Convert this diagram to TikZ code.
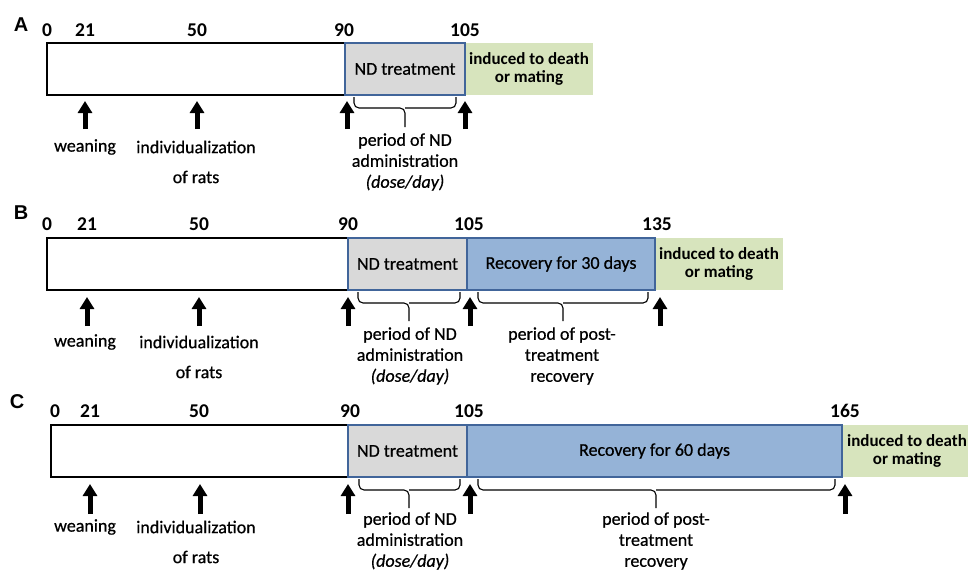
\documentclass[tikz,border=0pt]{standalone}
\usepackage{fontspec}
\setmainfont{Carlito}
\newfontfamily\bodyfont{Carlito}[FakeBold=0.6]
\newfontfamily\labfont{Liberation Sans}
\usetikzlibrary{arrows.meta}
\definecolor{bdblue}{HTML}{41659A}
\definecolor{ndgray}{HTML}{D9D9D9}
\definecolor{recblue}{HTML}{95B3D7}
\definecolor{grn}{HTML}{D7E4BD}
\begin{document}
\begin{tikzpicture}[x=1pt,y=-1pt,
  every node/.style={inner sep=0pt, outer sep=0pt},
  basebox/.style={anchor=north west, minimum height=52pt, line width=2pt},
  whitebox/.style={basebox, draw=black, fill=white},
  ndbox/.style={basebox, draw=bdblue, fill=ndgray, font=\bodyfont\fontsize{18}{21}\selectfont},
  recbox/.style={basebox, draw=bdblue, fill=recblue, font=\bodyfont\fontsize{18}{21}\selectfont},
  grnbox/.style={basebox, line width=0pt, fill=grn, align=center, font=\bfseries\fontsize{17}{18}\selectfont},
  num/.style={font=\bfseries\fontsize{19.5}{20}\selectfont},
  lab/.style={font=\labfont\bfseries\fontsize{20}{20}\selectfont},
  txt/.style={font=\bodyfont\fontsize{18}{21}\selectfont, align=center},
  uparrow/.style={line width=5pt, -{Triangle[width=14pt,length=12pt]}},
  brc/.style={line width=1.1pt, rounded corners=5pt},
]
\useasboundingbox[fill=white] (0,0) rectangle (968,570);

% ================= Panel A =================
\node[lab] (la) at (21,25) {A};
\node[num] (a0) at (47,30) {0};
\node[num] (a21) at (85,30) {21};
\node[num] (a50) at (197,30) {50};
\node[num] (a90) at (344,30) {90};
\node[num] (a105) at (465,30) {105};
\node[grnbox, minimum width=128pt] (ag) at (465,43) {induced to death\\or mating};
\node[whitebox, minimum width=298pt] (aw) at (47,43) {};
\node[ndbox, minimum width=120pt] (and) at (345,43) {ND treatment};
\foreach \x/\n in {85/1,197/2,347/3,465/4}{
  \coordinate (at\n) at (\x,129);
  \coordinate (ah\n) at (\x,101);
  \draw[uparrow] (at\n) -- (ah\n);
}
\node[txt] (awean) at (85,147) {weaning};
\node[txt] (aind) at (196,147) {individualization};
\node[txt] (arats) at (196,177) {of rats};
\draw[brc] (354,97) |- (405,108) -- (405,127);
\draw[brc] (456,97) |- (405,108);
\node[txt] (aadm) at (405,162) {period of ND\\administration\\\textit{(dose/day)}};

% ================= Panel B =================
\node[lab] (lb) at (21,213) {B};
\node[num] (b0) at (47,224) {0};
\node[num] (b21) at (87,224) {21};
\node[num] (b50) at (199,224) {50};
\node[num] (b90) at (348,224) {90};
\node[num] (b105) at (469,224) {105};
\node[num] (b135) at (657,224) {135};
\node[grnbox, minimum width=128pt] (bg) at (655,238) {induced to death\\or mating};
\node[whitebox, minimum width=301pt] (bw) at (47,238) {};
\node[ndbox, minimum width=119pt] (bnd) at (348,238) {ND treatment};
\node[recbox, minimum width=188pt] (brec) at (467,238) {Recovery for 30 days};
\foreach \x/\n in {87/1,199/2,348/3,470/4,660/5}{
  \coordinate (bt\n) at (\x,326);
  \coordinate (bh\n) at (\x,297);
  \draw[uparrow] (bt\n) -- (bh\n);
}
\node[txt] (bwean) at (85,342) {weaning};
\node[txt] (bind) at (199,342) {individualization};
\node[txt] (brats) at (199,372) {of rats};
\draw[brc] (358,292) |- (409,303) -- (409,321);
\draw[brc] (460,292) |- (409,303);
\node[txt] (badm) at (410,356) {period of ND\\administration\\\textit{(dose/day)}};
\draw[brc] (478,292) |- (563,303) -- (563,321);
\draw[brc] (648,292) |- (563,303);
\node[txt] (bpost) at (562,356) {period of post-\\treatment\\recovery};

% ================= Panel C =================
\node[lab] (lc) at (17,402) {C};
\node[num] (c0) at (55,411) {0};
\node[num] (c21) at (90,411) {21};
\node[num] (c50) at (199,411) {50};
\node[num] (c90) at (350,411) {90};
\node[num] (c105) at (469,411) {105};
\node[num] (c165) at (845,411) {165};
\node[grnbox, minimum width=130pt] (cg) at (842,425) {induced to death\\or mating};
\node[whitebox, minimum width=297pt] (cw) at (51,425) {};
\node[ndbox, minimum width=119pt] (cnd) at (348,425) {ND treatment};
\node[recbox, minimum width=375pt] (crec) at (467,425) {Recovery for 60 days};
\foreach \x/\n in {90/1,200/2,348/3,470/4,845/5}{
  \coordinate (ct\n) at (\x,514);
  \coordinate (ch\n) at (\x,484);
  \draw[uparrow] (ct\n) -- (ch\n);
}
\node[txt] (cwean) at (85,527) {weaning};
\node[txt] (cind) at (196,527) {individualization};
\node[txt] (crats) at (196,557) {of rats};
\draw[brc] (359,479) |- (409,490) -- (409,508);
\draw[brc] (460,479) |- (409,490);
\node[txt] (cadm) at (410,541) {period of ND\\administration\\\textit{(dose/day)}};
\draw[brc] (478,479) |- (656,490) -- (656,508);
\draw[brc] (835,479) |- (656,490);
\node[txt] (cpost) at (656,541) {period of post-\\treatment\\recovery};
\end{tikzpicture}
\end{document}
